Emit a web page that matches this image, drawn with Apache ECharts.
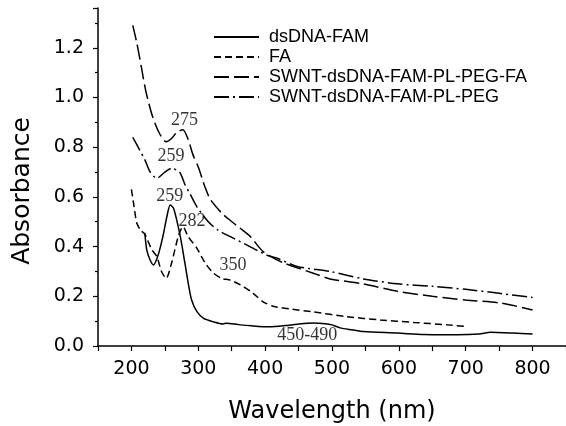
<!DOCTYPE html>
<html>
<head>
<meta charset="utf-8">
<script src="https://cdn.jsdelivr.net/npm/echarts@6/dist/echarts.min.js"></script>
<style>
  html, body { margin: 0; padding: 0; background: #fff; }
  #chart { width: 566px; height: 426px; }
</style>
</head>
<body>
<div id="chart"></div>
<script>
// dsDNA-FAM (solid)
var dsdnaWl  = [220, 223, 228, 233, 240, 247, 253, 258, 263, 270, 275, 280, 285, 290, 298, 308, 322, 337, 342, 360, 380, 407, 430, 448, 472, 490, 500, 512, 530, 547, 598, 637, 687, 720, 737, 770, 800]
var dsdnaAbs = [0.455, 0.386, 0.346, 0.326, 0.366, 0.44, 0.52, 0.567, 0.554, 0.48, 0.413, 0.333, 0.252, 0.185, 0.138, 0.111, 0.098, 0.089, 0.092, 0.086, 0.081, 0.077, 0.082, 0.088, 0.093, 0.09, 0.085, 0.073, 0.065, 0.058, 0.052, 0.046, 0.045, 0.048, 0.055, 0.052, 0.048]

// FA (short dash)
var faWl  = [200, 204, 208, 214, 220, 230, 238, 245, 252, 260, 270, 277, 285, 298, 310, 322, 335, 348, 367, 382, 397, 412, 440, 472, 522, 572, 622, 672, 702]
var faAbs = [0.63, 0.56, 0.495, 0.465, 0.45, 0.39, 0.36, 0.30, 0.272, 0.333, 0.44, 0.48, 0.44, 0.393, 0.335, 0.295, 0.272, 0.265, 0.24, 0.212, 0.178, 0.16, 0.148, 0.137, 0.118, 0.105, 0.095, 0.085, 0.078]

// SWNT-dsDNA-FAM-PL-PEG-FA (long dash)
var swntFaWl  = [202, 208, 215, 222, 232, 242, 252, 260, 268, 277, 285, 292, 300, 310, 318, 335, 348, 362, 378, 397, 427, 472, 497, 547, 598, 650, 700, 752, 800]
var swntFaAbs = [1.29, 1.22, 1.12, 1.02, 0.92, 0.855, 0.822, 0.835, 0.86, 0.87, 0.83, 0.77, 0.72, 0.64, 0.59, 0.535, 0.505, 0.475, 0.44, 0.38, 0.335, 0.293, 0.27, 0.25, 0.22, 0.20, 0.185, 0.173, 0.145]

// SWNT-dsDNA-FAM-PL-PEG (dash-dot)
var swntPegWl  = [202, 212, 220, 228, 238, 250, 260, 272, 280, 288, 298, 315, 330, 348, 373, 403, 418, 448, 497, 547, 598, 650, 700, 750, 800]
var swntPegAbs = [0.84, 0.79, 0.75, 0.70, 0.675, 0.70, 0.715, 0.70, 0.65, 0.61, 0.56, 0.50, 0.465, 0.44, 0.406, 0.365, 0.353, 0.32, 0.30, 0.27, 0.25, 0.24, 0.228, 0.212, 0.195]

// peak annotations
var noteText = ['275', '259', '259', '282', '350', '450-490']
var noteWl   = [279.5, 259.3, 257.3, 290.7, 352, 463]
var noteAbs  = [0.909, 0.762, 0.601, 0.501, 0.326, 0.042]

var seriesNames = ['dsDNA-FAM', 'FA', 'SWNT-dsDNA-FAM-PL-PEG-FA', 'SWNT-dsDNA-FAM-PL-PEG']

function zip(xs, ys) {
    return xs.map(function (x, i) { return [x, ys[i]] })
}

var chart = echarts.init(document.getElementById('chart'))

function lineSeries(name, xs, ys, dash) {
    return {
        name: name,
        type: 'line',
        data: zip(xs, ys),
        smooth: 0.25,
        showSymbol: false,
        symbol: 'none',
        lineStyle: { color: '#000', width: 1.5, type: dash },
        itemStyle: { color: '#000' }
    }
}

var option = {
    animation: false,
    grid: { left: 98, right: 0, top: 8, bottom: 80, outerBoundsMode: 'none' },
    legend: {
        data: seriesNames,
        orient: 'vertical',
        left: 208,
        top: 23,
        itemWidth: 45,
        itemHeight: 14,
        itemGap: 2,
        itemStyle: { opacity: 0, borderWidth: 0 },
        textStyle: {
            fontFamily: 'Liberation Sans',
            fontSize: 18,
            color: '#000',
            padding: [0, 0, 0, 5]
        }
    },
    xAxis: {
        type: 'value',
        min: 150,
        max: 850,
        interval: 50,
        name: 'Wavelength (nm)',
        nameLocation: 'middle',
        nameGap: 54,
        nameTextStyle: { fontFamily: 'DejaVu Sans', fontSize: 24, color: '#000' },
        splitLine: { show: false },
        axisLine: { lineStyle: { color: '#000', width: 1.5 } },
        axisTick: { length: 5, lineStyle: { color: '#000', width: 1.2 } },
        axisLabel: {
            fontFamily: 'DejaVu Sans',
            fontSize: 19,
            color: '#000',
            margin: 14,
            formatter: function (v) { return v % 100 === 0 ? String(v) : '' }
        }
    },
    yAxis: {
        type: 'value',
        min: 0,
        max: 1.36,
        interval: 0.2,
        name: 'Absorbance',
        nameLocation: 'middle',
        nameGap: 63,
        nameTextStyle: {
            fontFamily: 'DejaVu Sans',
            fontSize: 25,
            color: '#000',
            padding: [0, 28, 0, 0]
        },
        splitLine: { show: false },
        axisLine: { show: true, lineStyle: { color: '#000', width: 1.5 } },
        axisTick: { show: true, length: 5, lineStyle: { color: '#000', width: 1.2 } },
        minorTick: { show: true, splitNumber: 2, length: 3, lineStyle: { color: '#000', width: 1.2 } },
        axisLabel: {
            fontFamily: 'DejaVu Sans',
            fontSize: 19,
            color: '#000',
            margin: 14,
            showMaxLabel: false,
            formatter: function (v) { return v.toFixed(1) }
        }
    },
    series: [
        lineSeries(seriesNames[0], dsdnaWl, dsdnaAbs, 'solid'),
        lineSeries(seriesNames[1], faWl, faAbs, [7, 4]),
        lineSeries(seriesNames[2], swntFaWl, swntFaAbs, [15, 5]),
        lineSeries(seriesNames[3], swntPegWl, swntPegAbs, [15, 4, 2, 4]),
        {
            name: 'notes',
            type: 'scatter',
            symbolSize: 0,
            data: noteWl.map(function (x, i) {
                return { value: [x, noteAbs[i]], name: noteText[i] }
            }),
            label: {
                show: true,
                position: 'inside',
                formatter: '{b}',
                fontFamily: 'Liberation Serif',
                fontSize: 18,
                color: '#000'
            },
            silent: true
        }
    ]
}

chart.setOption(option)
</script>
</body>
</html>
